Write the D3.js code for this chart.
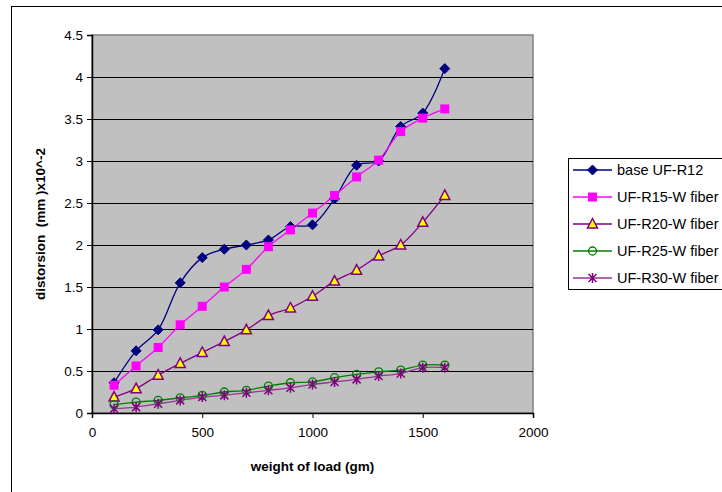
<!DOCTYPE html>
<html>
<head>
<meta charset="utf-8">
<script src="https://cdn.jsdelivr.net/npm/d3@7"></script>
<style>
  body { margin: 0; background: #fff; }
  text { font-family: "Liberation Sans", Arial, sans-serif; }
</style>
</head>
<body>
<div id="chart"></div>
<script>
// load in gm
var loads = [100, 200, 300, 400, 500, 600, 700, 800, 900, 1000, 1100, 1200, 1300, 1400, 1500, 1600]

var baseR12 = [0.36, 0.74, 0.99, 1.55, 1.85, 1.95, 2.0, 2.06, 2.22, 2.24, 2.55, 2.95, 3.0, 3.41, 3.57, 4.1]
var r15 = [0.33, 0.56, 0.78, 1.05, 1.27, 1.5, 1.71, 1.98, 2.18, 2.38, 2.59, 2.81, 3.01, 3.35, 3.51, 3.62]
var r20 = [0.19, 0.29, 0.45, 0.59, 0.72, 0.85, 0.99, 1.16, 1.25, 1.39, 1.57, 1.7, 1.87, 2.0, 2.27, 2.59]
var r25 = [0.1, 0.13, 0.15, 0.18, 0.21, 0.25, 0.27, 0.32, 0.36, 0.37, 0.42, 0.46, 0.49, 0.51, 0.57, 0.57]
var r30 = [0.05, 0.07, 0.11, 0.15, 0.19, 0.21, 0.24, 0.27, 0.3, 0.34, 0.37, 0.4, 0.44, 0.47, 0.54, 0.54]

var seriesNames = ['base UF-R12', 'UF-R15-W fiber', 'UF-R20-W fiber', 'UF-R25-W fiber', 'UF-R30-W fiber']
var xTicks = [0, 500, 1000, 1500, 2000]
var yTicks = [0, 0.5, 1, 1.5, 2, 2.5, 3, 3.5, 4, 4.5]

var series = [
  {name: seriesNames[0], vals: baseR12, line: '#000080', shape: 'diamond', fill: '#000080', stroke: '#000080'},
  {name: seriesNames[1], vals: r15, line: '#ff00ff', shape: 'square', fill: '#ff00ff', stroke: '#ff00ff'},
  {name: seriesNames[2], vals: r20, line: '#800080', shape: 'triangle', fill: '#ffff00', stroke: '#800080'},
  {name: seriesNames[3], vals: r25, line: '#008000', shape: 'circle', fill: 'none', stroke: '#008000'},
  {name: seriesNames[4], vals: r30, line: '#993399', shape: 'star', fill: 'none', stroke: '#800080'}
]

var W = 722, H = 492
var m = {left: 92, top: 35, right: 189, bottom: 79}
var pw = W - m.left - m.right, ph = H - m.top - m.bottom

var svg = d3.select('#chart').append('svg').attr('width', W).attr('height', H)

// outer frame
svg.append('rect').attr('x', 11.5).attr('y', 6.5).attr('width', 760).attr('height', 540)
  .attr('fill', 'none').attr('stroke', '#000').attr('stroke-width', 1)

var g = svg.append('g').attr('transform', 'translate(' + m.left + ',' + m.top + ')')

var x = d3.scaleLinear().domain([0, 2000]).range([0, pw])
var y = d3.scaleLinear().domain([0, 4.5]).range([ph, 0])

g.append('rect').attr('width', pw).attr('height', ph).attr('fill', '#c0c0c0')
  .attr('stroke', '#808080').attr('stroke-width', 1.5)

g.selectAll('line.grid').data(yTicks.slice(1, -1)).enter().append('line')
  .attr('class', 'grid')
  .attr('x1', 0).attr('x2', pw)
  .attr('y1', function(d){ return Math.round(y(d)) + 0.5 })
  .attr('y2', function(d){ return Math.round(y(d)) + 0.5 })
  .attr('stroke', '#000').attr('stroke-width', 1)

var yAxis = g.append('g').call(d3.axisLeft(y).tickValues(yTicks).tickSize(5).tickPadding(4).tickFormat(d3.format('')))
var xAxis = g.append('g').attr('transform', 'translate(0,' + ph + ')')
  .call(d3.axisBottom(x).tickValues(xTicks).tickSize(5).tickPadding(9).tickFormat(d3.format('')))

;[yAxis, xAxis].forEach(function(a){
  a.select('.domain').attr('stroke', '#000').attr('stroke-width', 1.5)
  a.selectAll('.tick line').attr('stroke', '#000')
  a.selectAll('.tick text').attr('font-size', 13.5).attr('fill', '#000')
    .style('font-family', '"Liberation Sans", Arial, sans-serif')
})

var line = d3.line()
  .x(function(d, i){ return x(loads[i]) })
  .y(function(d){ return y(d) })
  .curve(d3.curveCatmullRom.alpha(0.5))

function marker(sel, s) {
  if (s.shape == 'diamond') {
    sel.append('path').attr('d', 'M0,-5L5,0L0,5L-5,0Z').attr('fill', s.fill).attr('stroke', s.stroke)
  } else if (s.shape == 'square') {
    sel.append('rect').attr('x', -4.5).attr('y', -4.5).attr('width', 9).attr('height', 9).attr('fill', s.fill)
  } else if (s.shape == 'triangle') {
    sel.append('path').attr('d', 'M0,-5.5L5,4L-5,4Z').attr('fill', s.fill).attr('stroke', s.stroke).attr('stroke-width', 1.5)
  } else if (s.shape == 'circle') {
    sel.append('circle').attr('r', 4).attr('fill', 'none').attr('stroke', s.stroke).attr('stroke-width', 1.3)
  } else {
    sel.append('path').attr('d', 'M-4,-4L4,4M-4,4L4,-4M0,-5V5')
      .attr('stroke', s.stroke).attr('stroke-width', 1.5).attr('fill', 'none')
  }
}

series.forEach(function(s){
  g.append('path').attr('d', line(s.vals)).attr('fill', 'none')
    .attr('stroke', s.line).attr('stroke-width', 1.3)
})
series.forEach(function(s){
  g.selectAll(null).data(s.vals).enter().append('g')
    .attr('transform', function(d, i){ return 'translate(' + x(loads[i]) + ',' + y(d) + ')' })
    .each(function(){ marker(d3.select(this), s) })
})

// axis titles
svg.append('text').attr('x', m.left + x(1000)).attr('y', 471)
  .attr('text-anchor', 'middle').attr('font-size', 13.5).attr('font-weight', 'bold')
  .text('weight of load (gm)')
svg.append('text').attr('transform', 'translate(45,' + (m.top + ph / 2) + ') rotate(-90)')
  .attr('text-anchor', 'middle').attr('font-size', 13.5).attr('font-weight', 'bold')
  .style('white-space', 'pre')
  .text('distorsion  (mm )x10^-2')

// legend
var lg = svg.append('g').attr('transform', 'translate(568,158)')
lg.append('rect').attr('x', 0.5).attr('y', 0.5).attr('width', 170).attr('height', 131)
  .attr('fill', '#fff').attr('stroke', '#000')
series.forEach(function(s, i){
  var row = lg.append('g').attr('transform', 'translate(0,' + (12 + i * 27) + ')')
  row.append('line').attr('x1', 5).attr('x2', 44).attr('stroke', s.line).attr('stroke-width', 1.3)
  marker(row.append('g').attr('transform', 'translate(24.5,0)'), s)
  row.append('text').attr('x', 49).attr('y', 5).attr('font-size', 14.5).text(s.name)
})
</script>
</body>
</html>
